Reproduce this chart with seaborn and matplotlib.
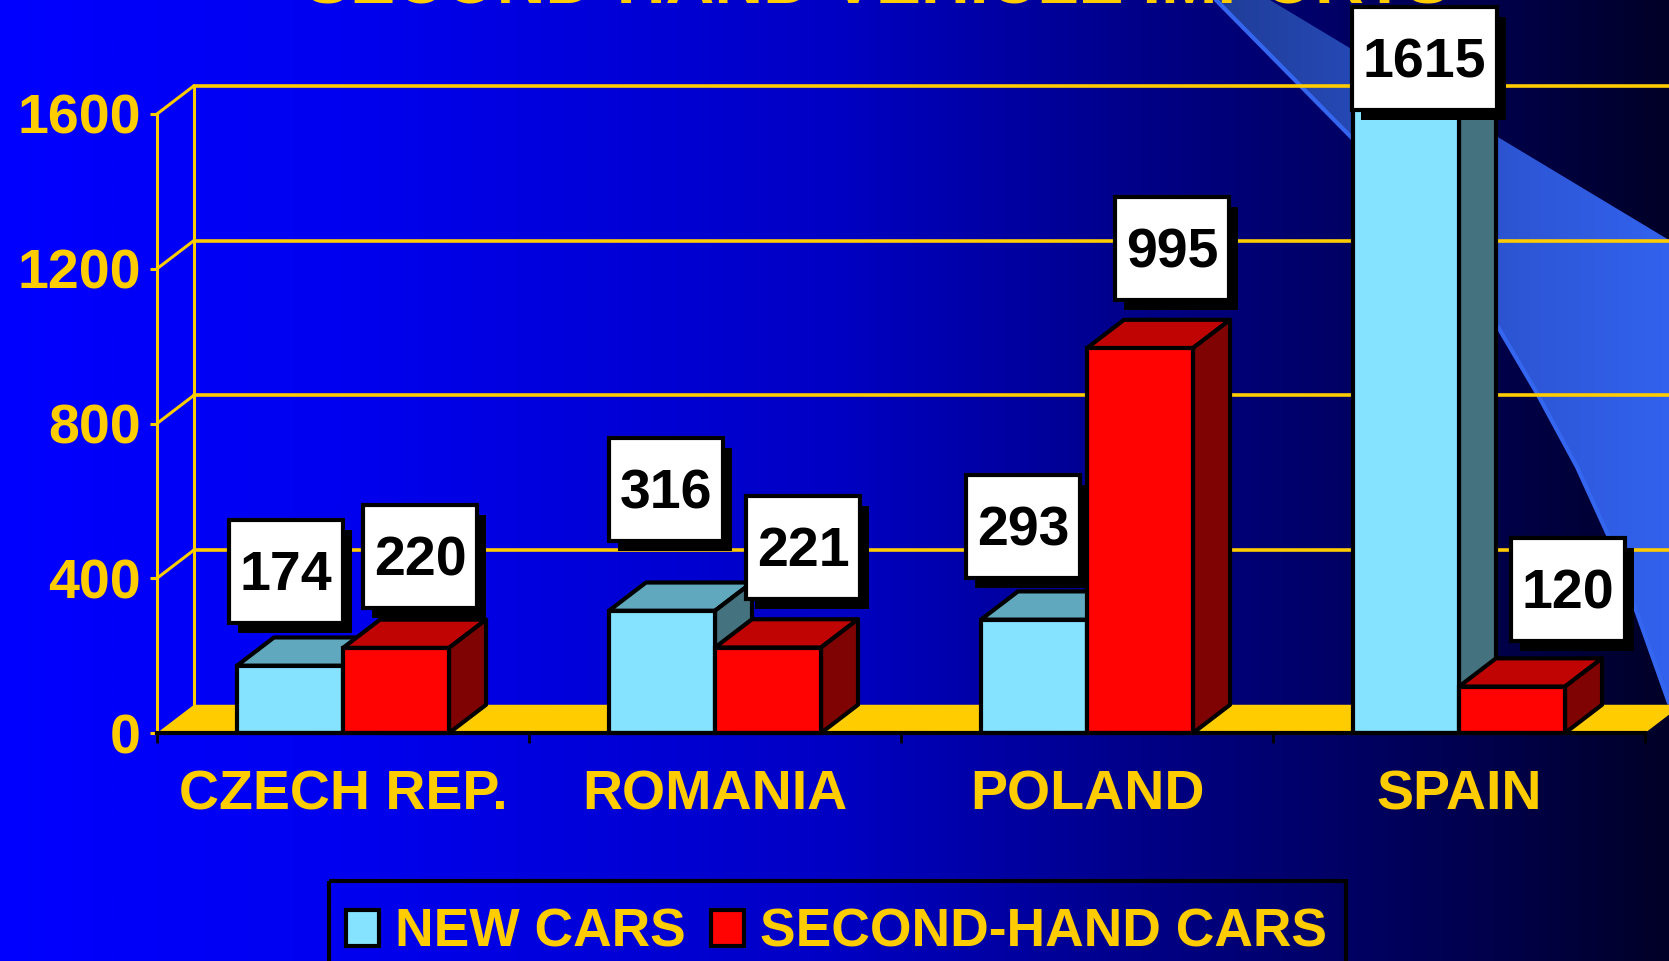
import numpy as np
import pandas as pd
import matplotlib
matplotlib.use("Agg")
import matplotlib.pyplot as plt
from matplotlib.colors import LinearSegmentedColormap
from matplotlib.patches import Polygon, Rectangle
import seaborn as sns

countries = ["CZECH REP.", "ROMANIA", "POLAND", "SPAIN"]
new_cars = [174, 316, 293, 1615]
second_hand = [220, 221, 995, 120]
y_ticks = [0, 400, 800, 1200, 1600]
series_names = ["NEW CARS", "SECOND-HAND CARS"]
title = "SECOND-HAND VEHICLE IMPORTS"

# label box corners in picture pixels, they do not follow the bars exactly
new_label_boxes = [(229, 520), (609, 438), (966, 475), (1352, 7)]
second_label_boxes = [(363, 505), (746, 496), (1115, 197), (1511, 538)]

W, H = 1669, 961
GOLD = "#FFCC00"
FRONT = ["#85E3FF", "#FF0303"]
TOP = ["#5FA8BE", "#C00404"]
SIDE = ["#44737F", "#800303"]
# depth of the fake 3D box, in category and value units
DX = 37 / 372
DY = 73

sns.set_style("white")
plt.rcParams["font.family"] = ["Liberation Sans", "DejaVu Sans"]
plt.rcParams["font.weight"] = "bold"

fig = plt.figure(figsize=(W / 100, H / 100), dpi=100)


def pixel_axes(zorder):
    a = fig.add_axes([0, 0, 1, 1], zorder=zorder)
    a.set_xlim(0, W)
    a.set_ylim(H, 0)
    a.axis("off")
    a.patch.set_alpha(0)
    return a


# --- background and the swoosh ---
bg = pixel_axes(0)
bg_cmap = LinearSegmentedColormap.from_list(
    "bg", [(0, "#0000FF"), (0.2, "#0000F0"), (0.5, "#0000C4"), (0.72, "#00007C"), (0.88, "#000050"), (1, "#000028")]
)
ramp = np.linspace(0, 1, W).reshape(1, -1)
bg.imshow(ramp, cmap=bg_cmap, extent=(0, W, H, 0), aspect="auto", zorder=0)

swoosh_edge = [(1216, 0), (1352, 138), (1440, 252), (1498, 327), (1538, 395), (1577, 467),
               (1608, 535), (1637, 613), (1669, 703)]
swoosh = Polygon(swoosh_edge + [(1669, 240), (1270, 0)], closed=True, transform=bg.transData, fc="none", ec="none")
bg.add_patch(swoosh)
sw_cmap = LinearSegmentedColormap.from_list("sw", ["#1F3D98", "#2A50C8", "#3262EE"])
sw_img = bg.imshow(ramp, cmap=sw_cmap, extent=(1216, 1669, H, 0), aspect="auto", zorder=1)
sw_img.set_clip_path(swoosh)
bg.plot(*zip(*swoosh_edge), color="#3566F0", lw=3, zorder=2)
bg.set_xlim(0, W)
bg.set_ylim(H, 0)

# --- chart ---
ax = fig.add_axes([157 / W, (H - 733) / H, (1645 - 157) / W, (733 - 114) / H], zorder=1)
ax.patch.set_alpha(0)

df = pd.DataFrame({
    "country": countries * 2,
    "value": new_cars + second_hand,
    "series": [series_names[0]] * 4 + [series_names[1]] * 4,
})
sns.barplot(data=df, x="country", y="value", hue="series", palette=FRONT, width=0.57, gap=0,
            saturation=1, edgecolor="black", linewidth=3, ax=ax, clip_on=False)

ax.set_xlim(-0.5, 3.5)
ax.set_ylim(0, 1600)
ax.set_xlabel("")
ax.set_ylabel("")
ax.set_yticks(y_ticks)

# floor and walls
ax.fill([-0.5, -0.5 + DX, 3.5 + DX, 3.5], [0, DY, DY, 0], color=GOLD, lw=0, zorder=1, clip_on=False)
for v in y_ticks[1:]:
    ax.plot([-0.5, -0.5 + DX], [v, v + DY], color=GOLD, lw=2.2, zorder=1, clip_on=False)
    ax.plot([-0.5 + DX, 3.5 + DX], [v + DY, v + DY], color=GOLD, lw=2.6, zorder=1, clip_on=False)
ax.plot([-0.5 + DX, -0.5 + DX], [DY, 1600 + DY], color=GOLD, lw=2.2, zorder=1, clip_on=False)

# top and side faces of the bars, from what seaborn drew
for i, cont in enumerate(ax.containers):
    z = 3 + 2 * i
    for bar in cont:
        bar.set_zorder(z + 1)
        x0, w, h = bar.get_x(), bar.get_width(), bar.get_height()
        x1 = x0 + w
        ax.add_patch(Polygon([(x0, h), (x0 + DX, h + DY), (x1 + DX, h + DY), (x1, h)], fc=TOP[i], ec="black",
                             lw=3, zorder=z, clip_on=False, joinstyle="round"))
        ax.add_patch(Polygon([(x1, 0), (x1 + DX, DY), (x1 + DX, h + DY), (x1, h)], fc=SIDE[i], ec="black",
                             lw=3, zorder=z, clip_on=False, joinstyle="round"))

sns.despine(ax=ax)
ax.spines["left"].set_color(GOLD)
ax.spines["left"].set_linewidth(2.2)
ax.spines["bottom"].set_color("black")
ax.spines["bottom"].set_linewidth(3)
ax.spines["bottom"].set_zorder(8)

ax.set_xticks(np.arange(len(countries)))
ax.set_xticklabels(countries)
ax.set_xticks(np.arange(len(countries) + 1) - 0.5, minor=True)
ax.tick_params(axis="x", which="major", length=0, pad=26.6, labelsize=40, labelcolor=GOLD)
ax.tick_params(axis="x", which="minor", length=7, width=2, color="black", bottom=True)
ax.tick_params(axis="y", length=5, width=2.2, color=GOLD, left=True, pad=6.8, labelsize=40, labelcolor=GOLD)

# legend, the frame is drawn apart because it runs off the bottom of the picture
handles, labels = ax.get_legend_handles_labels()
leg = ax.legend(handles, labels, ncol=2, loc="upper left", bbox_to_anchor=(326 / W, (H - 888) / H),
                bbox_transform=fig.transFigure, fontsize=38.4, labelcolor=GOLD, frameon=False,
                borderpad=0.37, borderaxespad=0, handlelength=0.62, handleheight=0.67, handletextpad=0.31,
                columnspacing=0.46)
leg.set_zorder(9)

# --- title, legend frame and value labels, on top of everything ---
top = pixel_axes(2)
top.text(878, 4, title, color=GOLD, fontsize=48.7, ha="center", va="baseline", clip_on=False)
top.add_patch(Rectangle((329, 881), 1017, 120, fc="none", ec="black", lw=3, zorder=2))

for values, boxes in ((new_cars, new_label_boxes), (second_hand, second_label_boxes)):
    for val, (left, up) in zip(values, boxes):
        txt = str(val)
        bw = 145 if len(txt) == 4 else 114
        bh = 103
        top.add_patch(Rectangle((left + 9, up + 10), bw, bh, fc="black", ec="black", lw=0, zorder=3))
        top.add_patch(Rectangle((left, up), bw, bh, fc="white", ec="black", lw=3, zorder=4))
        top.text(left + bw / 2, up + bh / 2 + 19, txt, color="black", fontsize=40, ha="center", va="baseline", zorder=5)

fig.savefig("out.png", dpi=100)
